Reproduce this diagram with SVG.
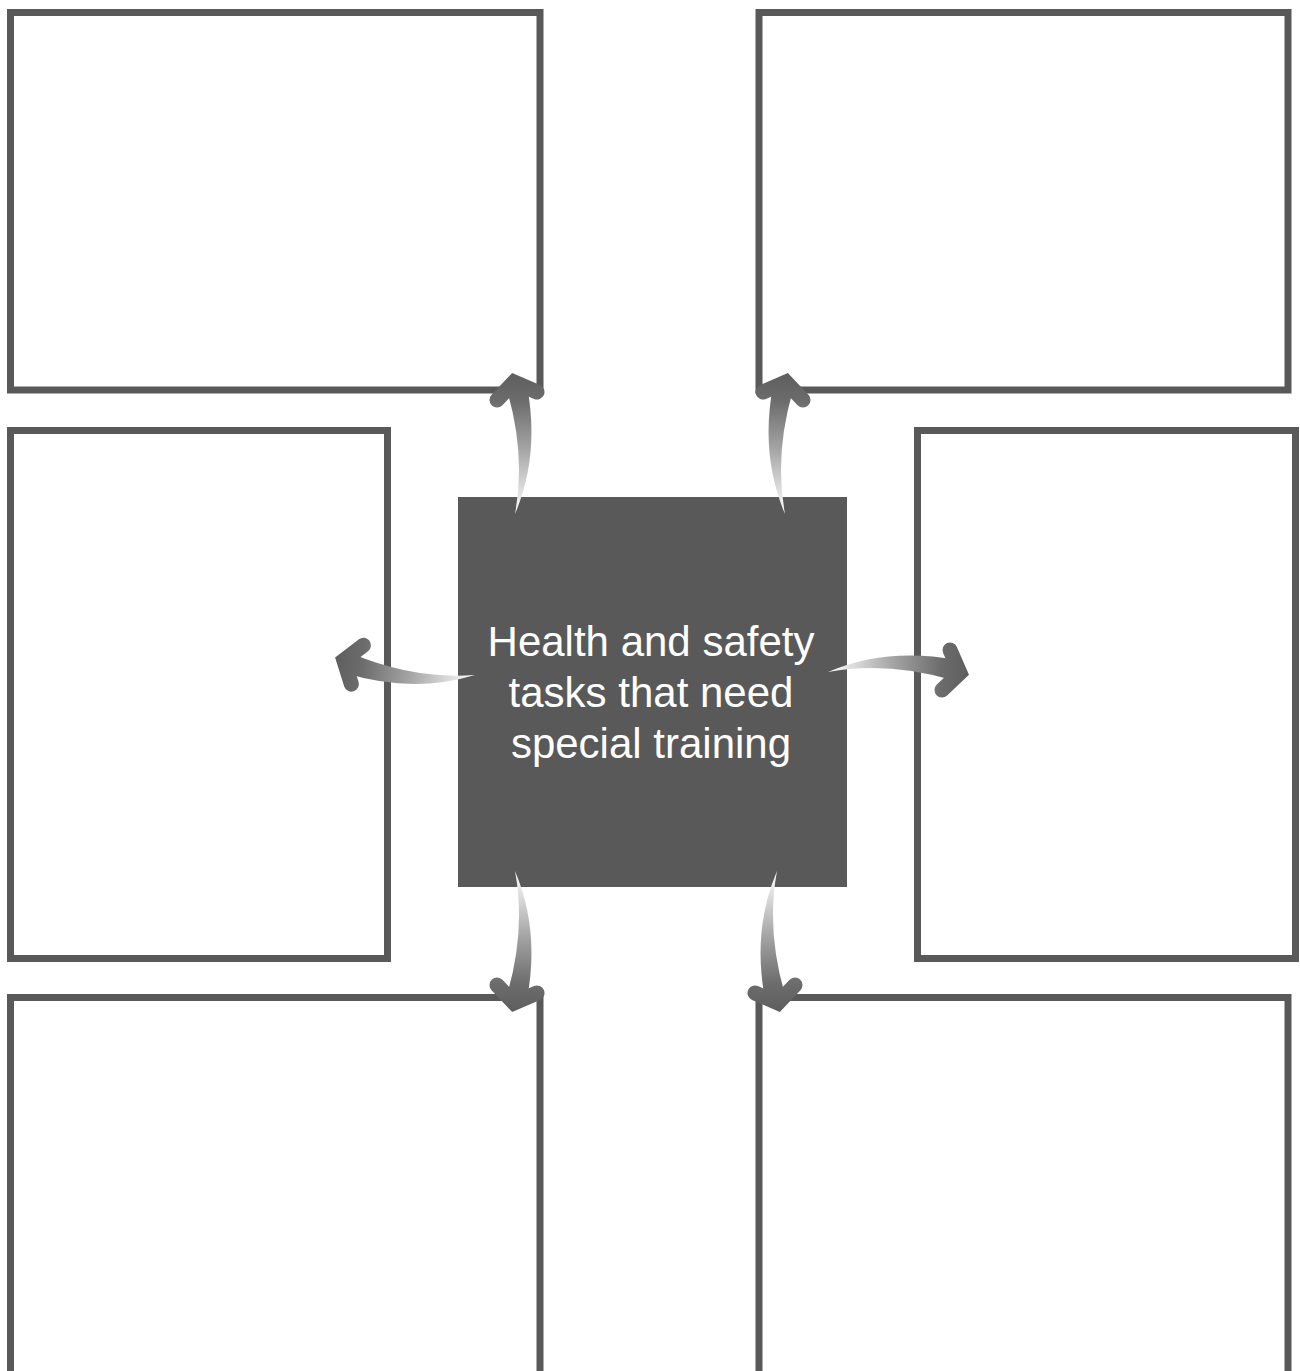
<svg xmlns="http://www.w3.org/2000/svg" xmlns:xlink="http://www.w3.org/1999/xlink" width="1300" height="1371" viewBox="0 0 1300 1371">
  <style>
    .box { fill: #ffffff; stroke: #595959; stroke-width: 7; }
    .hub { fill: #595959; }
    .hub-text { fill: #ffffff; font-family: "Liberation Sans", Arial, sans-serif; font-size: 42px; text-anchor: middle; }
    .head { fill: none; stroke: url(#arrowShade); stroke-width: 15; stroke-linecap: round; stroke-linejoin: miter; }
  </style>
  <defs>
    <!-- shade runs light at the tail to dark at the head -->
    <linearGradient id="arrowShade" gradientUnits="userSpaceOnUse" x1="515" y1="514" x2="512" y2="373">
      <stop offset="0" stop-color="#ffffff"/>
      <stop offset="0.45" stop-color="#a6a6a6"/>
      <stop offset="0.8" stop-color="#6c6c6c"/>
      <stop offset="1" stop-color="#5e5e5e"/>
    </linearGradient>
    <!-- curved, tapering arrow drawn pointing up; others are placed by transform -->
    <g id="arrow">
      <path d="M 515 514 Q 540 455 527 386 L 507 390 Q 526 455 515 514 Z" fill="url(#arrowShade)"/>
      <polyline class="head" points="497,400 514,382 537,392"/>
    </g>
  </defs>

  <g id="box-top-left"><rect class="box" x="10.5" y="12.5" width="529.5" height="377.5"/></g>
  <g id="box-top-right"><rect class="box" x="759" y="12.5" width="529" height="377.5"/></g>
  <g id="box-mid-left"><rect class="box" x="10.5" y="430.5" width="377" height="528"/></g>
  <g id="box-mid-right"><rect class="box" x="917.5" y="430.5" width="378" height="528"/></g>
  <g id="box-bottom-left"><rect class="box" x="10.5" y="997.5" width="529.5" height="420"/></g>
  <g id="box-bottom-right"><rect class="box" x="759" y="997.5" width="529" height="420"/></g>

  <g id="hub">
    <rect class="hub" x="458" y="497" width="389" height="390"/>
    <text class="hub-text" x="651" y="656">Health and safety</text>
    <text class="hub-text" x="651" y="707">tasks that need</text>
    <text class="hub-text" x="651" y="758">special training</text>
  </g>

  <g id="connectors">
    <use xlink:href="#arrow"/>
    <use xlink:href="#arrow" transform="translate(1300 0) scale(-1 1)"/>
    <use xlink:href="#arrow" transform="rotate(6 475 675) matrix(0 1 1 0 -39 160)"/>
    <use xlink:href="#arrow" transform="matrix(0 -1 -1 0 1342 1187)"/>
    <use xlink:href="#arrow" transform="translate(0 1385) scale(1 -1)"/>
    <use xlink:href="#arrow" transform="translate(1292 1385) scale(-1 -1)"/>
  </g>
</svg>
